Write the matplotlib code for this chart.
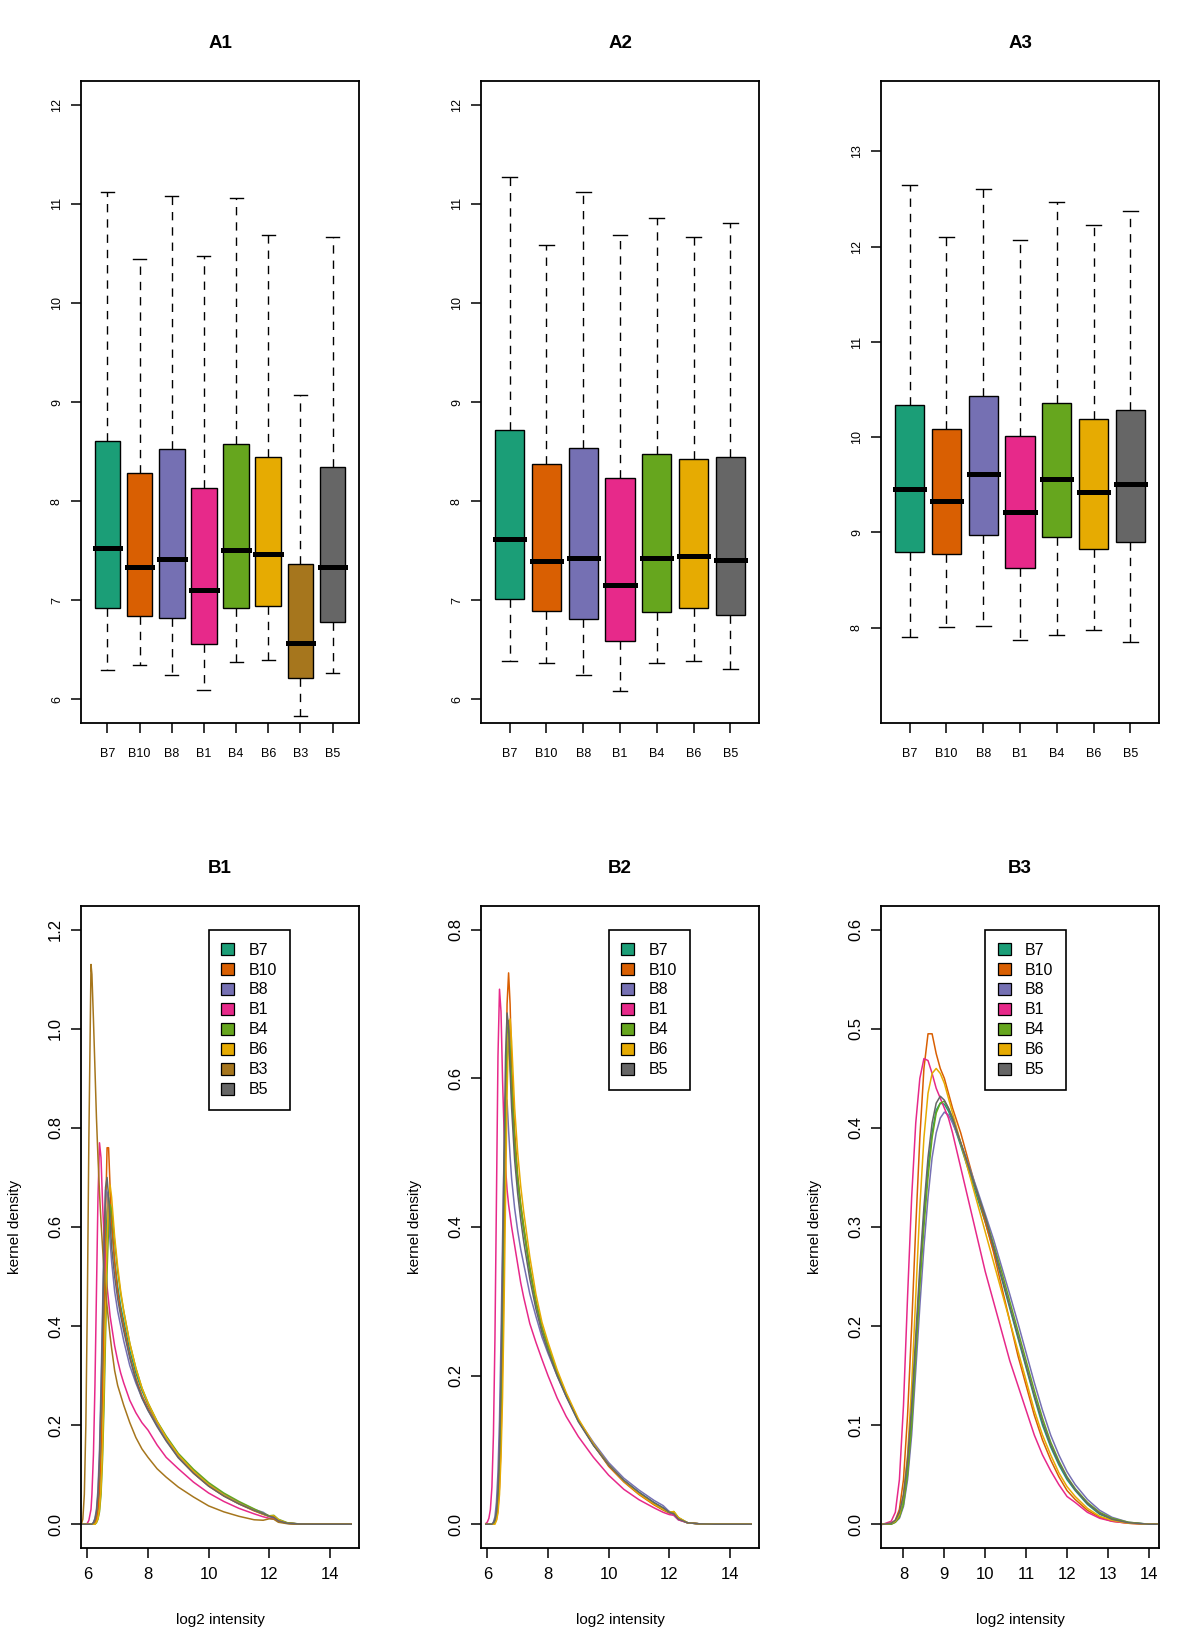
import matplotlib
matplotlib.use("Agg")
import matplotlib.pyplot as plt
from matplotlib.patches import Patch

plt.rcParams['font.family'] = ['Liberation Sans', 'DejaVu Sans']

# ---- colours (Dark2) per sample ----
sample_colors = {"B7": "#1B9E77", "B10": "#D95F02", "B8": "#7570B3", "B1": "#E7298A",
                 "B4": "#66A61E", "B6": "#E6AB02", "B3": "#A6761D", "B5": "#666666"}

# ---- A panels: boxplot stats ----
a1_names = ["B7", "B10", "B8", "B1", "B4", "B6", "B3", "B5"]
a1_med = [7.53, 7.33, 7.42, 7.10, 7.51, 7.47, 6.57, 7.33]
a1_q1 = [6.92, 6.84, 6.82, 6.56, 6.92, 6.94, 6.21, 6.78]
a1_q3 = [8.61, 8.28, 8.53, 8.13, 8.58, 8.44, 7.36, 8.34]
a1_lo = [6.29, 6.35, 6.24, 6.09, 6.38, 6.40, 5.83, 6.26]
a1_hi = [11.12, 10.44, 11.08, 10.47, 11.06, 10.69, 9.07, 10.67]

a2_names = ["B7", "B10", "B8", "B1", "B4", "B6", "B5"]
a2_med = [7.62, 7.40, 7.43, 7.15, 7.43, 7.45, 7.41]
a2_q1 = [7.01, 6.89, 6.81, 6.59, 6.88, 6.92, 6.85]
a2_q3 = [8.72, 8.37, 8.54, 8.23, 8.48, 8.42, 8.44]
a2_lo = [6.39, 6.37, 6.24, 6.08, 6.37, 6.39, 6.31]
a2_hi = [11.27, 10.58, 11.12, 10.69, 10.86, 10.67, 10.81]

a3_names = ["B7", "B10", "B8", "B1", "B4", "B6", "B5"]
a3_med = [9.46, 9.33, 9.61, 9.22, 9.56, 9.42, 9.51]
a3_q1 = [8.80, 8.77, 8.97, 8.63, 8.95, 8.83, 8.90]
a3_q3 = [10.34, 10.09, 10.43, 10.01, 10.36, 10.19, 10.29]
a3_lo = [7.90, 8.01, 8.02, 7.87, 7.92, 7.98, 7.85]
a3_hi = [12.65, 12.10, 12.61, 12.07, 12.47, 12.23, 12.37]

# ---- B panels: kernel density curves ----
b1_x = [5.8, 5.85, 5.9, 5.95, 6.0, 6.05, 6.12, 6.15, 6.2, 6.25, 6.3, 6.35, 6.4, 6.45, 6.5,
        6.55, 6.6, 6.65, 6.7, 6.75, 6.8, 6.9, 7.0, 7.1, 7.2, 7.4, 7.6, 7.8, 8.0, 8.3,
        8.6, 9.0, 9.5, 10.0, 10.5, 11.0, 11.5, 11.8, 12.0, 12.15, 12.3, 12.6, 13.0, 13.5, 14.0,
        14.7]
b1_y = {
    "B7": [0, 0, 0, 0, 0, 0, 0, 0, 0, 0.004, 0.012, 0.03, 0.07, 0.15, 0.27,
           0.41, 0.54, 0.63, 0.66, 0.64, 0.60, 0.53, 0.48, 0.44, 0.41, 0.35, 0.305, 0.27, 0.242, 0.205,
           0.175, 0.14, 0.108, 0.081, 0.06, 0.043, 0.029, 0.021, 0.016, 0.016, 0.008, 0.002, 0.0005, 0, 0,
           0],
    "B10": [0, 0, 0, 0, 0, 0, 0, 0, 0, 0.003, 0.01, 0.03, 0.07, 0.15, 0.28,
            0.45, 0.62, 0.76, 0.76, 0.68, 0.61, 0.53, 0.47, 0.43, 0.40, 0.34, 0.295, 0.26, 0.235, 0.2,
            0.17, 0.135, 0.103, 0.077, 0.057, 0.041, 0.027, 0.02, 0.016, 0.015, 0.007, 0.002, 0.0005, 0, 0,
            0],
    "B8": [0, 0, 0, 0, 0, 0, 0, 0, 0.004, 0.012, 0.03, 0.07, 0.15, 0.28, 0.43,
           0.58, 0.675, 0.67, 0.62, 0.57, 0.53, 0.47, 0.43, 0.40, 0.37, 0.32, 0.285, 0.255, 0.23, 0.2,
           0.17, 0.137, 0.107, 0.08, 0.06, 0.044, 0.03, 0.024, 0.016, 0.012, 0.006, 0.002, 0.0005, 0, 0,
           0],
    "B1": [0, 0, 0, 0, 0.002, 0.008, 0.03, 0.06, 0.14, 0.28, 0.47, 0.66, 0.77, 0.74, 0.65,
           0.58, 0.52, 0.48, 0.45, 0.42, 0.40, 0.36, 0.33, 0.305, 0.285, 0.25, 0.225, 0.205, 0.19, 0.16,
           0.135, 0.112, 0.085, 0.063, 0.046, 0.032, 0.021, 0.015, 0.012, 0.011, 0.006, 0.002, 0.0005, 0, 0,
           0],
    "B4": [0, 0, 0, 0, 0, 0, 0, 0, 0, 0, 0.003, 0.01, 0.025, 0.06, 0.13,
           0.24, 0.38, 0.51, 0.60, 0.645, 0.635, 0.57, 0.51, 0.465, 0.43, 0.365, 0.315, 0.275, 0.245, 0.208,
           0.178, 0.143, 0.111, 0.084, 0.063, 0.046, 0.031, 0.022, 0.017, 0.018, 0.01, 0.003, 0.0005, 0, 0,
           0],
    "B6": [0, 0, 0, 0, 0, 0, 0, 0, 0, 0, 0.004, 0.012, 0.03, 0.07, 0.15,
           0.28, 0.43, 0.57, 0.66, 0.685, 0.66, 0.58, 0.52, 0.47, 0.43, 0.365, 0.315, 0.275, 0.245, 0.207,
           0.175, 0.14, 0.107, 0.08, 0.059, 0.042, 0.028, 0.02, 0.016, 0.017, 0.009, 0.002, 0.0005, 0, 0,
           0],
    "B3": [0, 0.01, 0.06, 0.2, 0.45, 0.78, 1.13, 1.11, 1.02, 0.92, 0.82, 0.74, 0.67, 0.61, 0.56,
           0.51, 0.47, 0.44, 0.41, 0.38, 0.355, 0.31, 0.28, 0.26, 0.24, 0.205, 0.175, 0.152, 0.135, 0.112,
           0.095, 0.075, 0.055, 0.037, 0.025, 0.016, 0.009, 0.008, 0.011, 0.01, 0.004, 0.001, 0, 0, 0,
           0],
    "B5": [0, 0, 0, 0, 0, 0, 0, 0, 0.003, 0.01, 0.025, 0.06, 0.13, 0.25, 0.40,
           0.56, 0.68, 0.70, 0.66, 0.61, 0.56, 0.50, 0.455, 0.42, 0.39, 0.335, 0.29, 0.255, 0.23, 0.197,
           0.168, 0.134, 0.103, 0.077, 0.057, 0.041, 0.028, 0.021, 0.016, 0.014, 0.007, 0.002, 0.0005, 0, 0,
           0],
}

b2_x = [5.95, 6.0, 6.05, 6.1, 6.15, 6.2, 6.25, 6.3, 6.35, 6.4, 6.45, 6.5, 6.55, 6.6, 6.65,
        6.7, 6.75, 6.8, 6.9, 7.0, 7.1, 7.2, 7.4, 7.6, 7.8, 8.0, 8.3, 8.6, 9.0, 9.5,
        10.0, 10.5, 11.0, 11.5, 11.8, 12.0, 12.15, 12.3, 12.6, 13.0, 13.5, 14.0, 14.7]
b2_y = {
    "B7": [0, 0, 0, 0, 0, 0, 0.003, 0.01, 0.03, 0.07, 0.14, 0.25, 0.39, 0.52, 0.62,
           0.65, 0.625, 0.58, 0.51, 0.46, 0.425, 0.395, 0.34, 0.298, 0.264, 0.238, 0.203, 0.173, 0.139, 0.107,
           0.08, 0.059, 0.043, 0.029, 0.022, 0.017, 0.016, 0.008, 0.002, 0.0005, 0, 0, 0],
    "B10": [0, 0, 0, 0, 0, 0, 0.002, 0.006, 0.02, 0.05, 0.11, 0.22, 0.38, 0.56, 0.70,
            0.742, 0.70, 0.62, 0.53, 0.47, 0.43, 0.40, 0.345, 0.3, 0.265, 0.24, 0.205, 0.175, 0.14, 0.107,
            0.078, 0.057, 0.04, 0.026, 0.019, 0.015, 0.015, 0.007, 0.002, 0.0005, 0, 0, 0],
    "B8": [0, 0, 0, 0, 0, 0.003, 0.01, 0.03, 0.07, 0.14, 0.25, 0.38, 0.5, 0.575, 0.57,
           0.53, 0.495, 0.465, 0.425, 0.395, 0.37, 0.35, 0.31, 0.28, 0.252, 0.23, 0.2, 0.172, 0.14, 0.11,
           0.083, 0.062, 0.046, 0.032, 0.025, 0.017, 0.012, 0.006, 0.002, 0.0005, 0, 0, 0],
    "B1": [0.001, 0.003, 0.008, 0.02, 0.05, 0.12, 0.25, 0.44, 0.63, 0.72, 0.69, 0.60, 0.53, 0.48, 0.45,
           0.43, 0.415, 0.40, 0.375, 0.35, 0.325, 0.305, 0.27, 0.245, 0.222, 0.2, 0.17, 0.145, 0.118, 0.09,
           0.066, 0.047, 0.033, 0.022, 0.016, 0.013, 0.012, 0.006, 0.002, 0.0005, 0, 0, 0],
    "B4": [0, 0, 0, 0, 0, 0, 0.004, 0.012, 0.035, 0.08, 0.16, 0.28, 0.43, 0.57, 0.66,
           0.678, 0.64, 0.59, 0.515, 0.465, 0.43, 0.40, 0.345, 0.3, 0.265, 0.24, 0.205, 0.175, 0.14, 0.107,
           0.08, 0.059, 0.042, 0.028, 0.02, 0.016, 0.017, 0.009, 0.002, 0.0005, 0, 0, 0],
    "B6": [0, 0, 0, 0, 0, 0, 0, 0.005, 0.015, 0.04, 0.09, 0.17, 0.29, 0.44, 0.58,
           0.665, 0.68, 0.65, 0.56, 0.5, 0.455, 0.42, 0.36, 0.31, 0.272, 0.245, 0.208, 0.177, 0.142, 0.108,
           0.08, 0.058, 0.041, 0.027, 0.02, 0.016, 0.017, 0.009, 0.002, 0.0005, 0, 0, 0],
    "B5": [0, 0, 0, 0, 0, 0.002, 0.006, 0.017, 0.045, 0.1, 0.2, 0.34, 0.5, 0.63, 0.688,
           0.67, 0.61, 0.56, 0.49, 0.445, 0.41, 0.38, 0.33, 0.29, 0.258, 0.233, 0.2, 0.172, 0.138, 0.106,
           0.08, 0.059, 0.043, 0.029, 0.022, 0.016, 0.014, 0.007, 0.002, 0.0005, 0, 0, 0],
}

b3_x = [7.5, 7.7, 7.8, 7.9, 8.0, 8.1, 8.2, 8.3, 8.4, 8.5, 8.6, 8.7, 8.8, 8.9, 9.0,
        9.1, 9.2, 9.4, 9.6, 9.8, 10.0, 10.2, 10.4, 10.6, 10.8, 11.0, 11.2, 11.4, 11.6, 11.8,
        12.0, 12.2, 12.5, 12.8, 13.1, 13.5, 14.0, 14.2]
b3_y = {
    "B7": [0, 0.001, 0.003, 0.009, 0.025, 0.057, 0.11, 0.18, 0.25, 0.31, 0.36, 0.395, 0.418, 0.425, 0.424,
           0.417, 0.407, 0.382, 0.356, 0.33, 0.305, 0.277, 0.248, 0.218, 0.188, 0.158, 0.128, 0.1, 0.078, 0.06,
           0.045, 0.034, 0.02, 0.01, 0.005, 0.0015, 0, 0],
    "B10": [0, 0.001, 0.004, 0.015, 0.045, 0.11, 0.2, 0.3, 0.39, 0.46, 0.495, 0.495, 0.475, 0.46, 0.45,
            0.435, 0.42, 0.395, 0.365, 0.335, 0.305, 0.275, 0.24, 0.205, 0.17, 0.14, 0.11, 0.085, 0.065, 0.048,
            0.034, 0.025, 0.014, 0.007, 0.003, 0.001, 0, 0],
    "B8": [0, 0, 0.002, 0.006, 0.018, 0.045, 0.09, 0.155, 0.22, 0.28, 0.33, 0.37, 0.395, 0.41, 0.416,
           0.413, 0.405, 0.385, 0.362, 0.338, 0.313, 0.288, 0.26, 0.232, 0.203, 0.173, 0.143, 0.115, 0.09, 0.07,
           0.053, 0.04, 0.025, 0.014, 0.007, 0.002, 0, 0],
    "B1": [0, 0.003, 0.012, 0.045, 0.12, 0.23, 0.33, 0.405, 0.45, 0.47, 0.468, 0.455, 0.44, 0.43, 0.42,
           0.41, 0.395, 0.36, 0.325, 0.29, 0.255, 0.225, 0.195, 0.165, 0.14, 0.115, 0.09, 0.07, 0.054, 0.04,
           0.028, 0.022, 0.012, 0.006, 0.003, 0.001, 0, 0],
    "B4": [0, 0, 0.002, 0.007, 0.02, 0.05, 0.1, 0.17, 0.24, 0.3, 0.35, 0.39, 0.415, 0.425, 0.427,
           0.42, 0.41, 0.385, 0.36, 0.335, 0.31, 0.283, 0.255, 0.225, 0.195, 0.165, 0.135, 0.107, 0.083, 0.064,
           0.048, 0.036, 0.022, 0.012, 0.006, 0.002, 0, 0],
    "B6": [0, 0.001, 0.003, 0.01, 0.03, 0.07, 0.14, 0.23, 0.32, 0.39, 0.435, 0.455, 0.46, 0.455, 0.445,
           0.43, 0.415, 0.385, 0.355, 0.325, 0.295, 0.265, 0.235, 0.205, 0.175, 0.145, 0.115, 0.09, 0.07, 0.052,
           0.038, 0.028, 0.016, 0.008, 0.004, 0.001, 0, 0],
    "B5": [0, 0.001, 0.004, 0.012, 0.03, 0.065, 0.12, 0.19, 0.26, 0.32, 0.37, 0.405, 0.425, 0.432, 0.428,
           0.42, 0.41, 0.385, 0.36, 0.335, 0.31, 0.28, 0.25, 0.22, 0.19, 0.16, 0.13, 0.103, 0.08, 0.062,
           0.047, 0.035, 0.021, 0.011, 0.005, 0.0015, 0, 0],
}

W, H = 1200, 1650
fig = plt.figure(figsize=(12, 16.5), dpi=100)
col_left = [81, 481, 881]
ax_w = 278 / W
ax_h = 642 / H


def frame(ax):
    for s in ax.spines.values():
        s.set_linewidth(1.3)
        s.set_color("black")


def box_panel(ax, title, names, med, q1, q3, lo, hi, ylo, yhi):
    n = len(names)
    stats = [dict(med=med[i], q1=q1[i], q3=q3[i], whislo=lo[i], whishi=hi[i]) for i in range(n)]
    pos = list(range(1, n + 1))
    res = ax.bxp(stats, positions=pos, widths=0.8, capwidths=0.4, patch_artist=True,
                 showfliers=False,
                 boxprops=dict(linewidth=1.0, edgecolor="black"),
                 medianprops=dict(color="black", linewidth=3.6, solid_capstyle="projecting"),
                 whiskerprops=dict(color="black", linewidth=1.0, linestyle=(0, (6, 5))),
                 capprops=dict(color="black", linewidth=1.0))
    for patch, nm in zip(res["boxes"], names):
        patch.set_facecolor(sample_colors[nm])
    pad = 0.04 * n
    ax.set_xlim(0.5 - pad, n + 0.5 + pad)
    ext = 0.04 * (yhi - ylo)
    ax.set_ylim(ylo - ext, yhi + ext)
    ax.set_yticks(range(int(ylo), int(yhi) + 1))
    ax.set_xticks(pos, names)
    ax.tick_params(axis="both", direction="out", length=7, width=1.1, labelsize=9)
    ax.tick_params(axis="x", pad=11)
    ax.tick_params(axis="y", labelrotation=90, pad=6)
    for t in ax.get_yticklabels():
        t.set_va("center")
    ax.set_title(title, fontsize=13.5, fontweight="bold", pad=24)
    frame(ax)


def dens_panel(ax, title, xs, ys, names, xlim, ylim, yticks, xticks):
    for nm in names:
        ax.plot(xs, ys[nm], color=sample_colors[nm], linewidth=1.1)
    ax.set_xlim(*xlim)
    ext = 0.04 * (ylim[1] - ylim[0])
    ax.set_ylim(ylim[0] - ext, ylim[1] + ext)
    ax.set_yticks(yticks, ["%.1f" % v for v in yticks])
    ax.set_xticks(xticks)
    ax.tick_params(axis="both", direction="out", length=7, width=1.1, labelsize=12)
    ax.tick_params(axis="x", pad=7)
    ax.tick_params(axis="y", labelrotation=90, pad=6)
    for t in ax.get_yticklabels():
        t.set_va("center")
    ax.set_title(title, fontsize=13.5, fontweight="bold", pad=24)
    ax.set_xlabel("log2 intensity", fontsize=11)
    ax.set_ylabel("kernel density", fontsize=11)
    ax.xaxis.set_label_coords(0.5, -0.102)
    ax.yaxis.set_label_coords(-0.212, 0.5)
    handles = [Patch(facecolor=sample_colors[nm], edgecolor="black", linewidth=0.9) for nm in names]
    leg = ax.legend(handles, names, loc="upper left", bbox_to_anchor=(10, ylim[1]),
                    bbox_transform=ax.transData, borderaxespad=0, fancybox=False,
                    framealpha=1, edgecolor="black", fontsize=11.5, handlelength=0.8,
                    handleheight=0.8, handletextpad=0.9, labelspacing=0.31, borderpad=0.8)
    leg.get_frame().set_linewidth(1.2)
    frame(ax)


top_b = (H - 723) / H
bot_b = (H - 1548) / H

ax = fig.add_axes([col_left[0] / W, top_b, ax_w, ax_h])
box_panel(ax, "A1", a1_names, a1_med, a1_q1, a1_q3, a1_lo, a1_hi, 6, 12)
ax = fig.add_axes([col_left[1] / W, top_b, ax_w, ax_h])
box_panel(ax, "A2", a2_names, a2_med, a2_q1, a2_q3, a2_lo, a2_hi, 6, 12)
ax = fig.add_axes([col_left[2] / W, top_b, ax_w, ax_h])
box_panel(ax, "A3", a3_names, a3_med, a3_q1, a3_q3, a3_lo, a3_hi, 7.5, 13.5)
ax.set_yticks(range(8, 14))

ax = fig.add_axes([col_left[0] / W, bot_b, ax_w, ax_h])
dens_panel(ax, "B1", b1_x, b1_y, a1_names, (5.79, 14.96), (0, 1.2),
           [0.0, 0.2, 0.4, 0.6, 0.8, 1.0, 1.2], [6, 8, 10, 12, 14])
ax = fig.add_axes([col_left[1] / W, bot_b, ax_w, ax_h])
dens_panel(ax, "B2", b2_x, b2_y, a2_names, (5.79, 14.96), (0, 0.8),
           [0.0, 0.2, 0.4, 0.6, 0.8], [6, 8, 10, 12, 14])
ax = fig.add_axes([col_left[2] / W, bot_b, ax_w, ax_h])
dens_panel(ax, "B3", b3_x, b3_y, a3_names, (7.45, 14.25), (0, 0.6),
           [0.0, 0.1, 0.2, 0.3, 0.4, 0.5, 0.6], [8, 9, 10, 11, 12, 13, 14])

fig.savefig("out.png", dpi=100)
